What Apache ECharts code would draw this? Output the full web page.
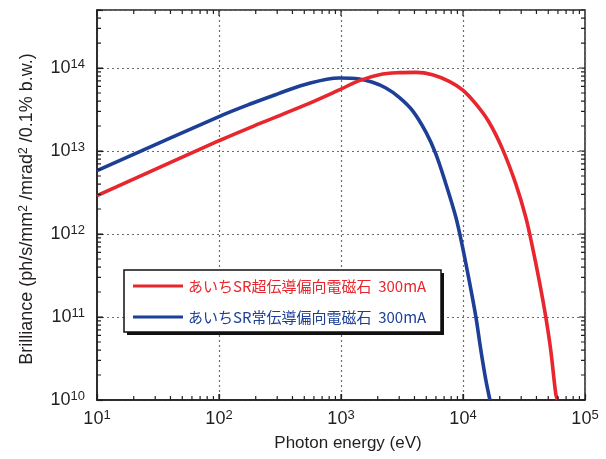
<!DOCTYPE html>
<html>
<head>
<meta charset="utf-8">
<script src="https://cdn.jsdelivr.net/npm/echarts@6/dist/echarts.min.js"></script>
<style>html,body{margin:0;padding:0;background:#fff;}#c{width:606px;height:459px;}</style>
</head>
<body>
<div id="c"></div>
<script>
// ---- data ----
const seriesNames = ['あいちSR超伝導偏向電磁石  300mA', 'あいちSR常伝導偏向電磁石  300mA'];
const redX = [10, 100, 217, 500, 968, 1413, 2061, 3000, 4111, 5623, 7709, 9908, 12740, 16370, 21040, 27040, 32660, 37070, 42070, 47640, 52360, 57540, 59430];
const redY = [2.9e12, 1.33e13, 2.15e13, 3.54e13, 5.45e13, 7.05e13, 8.32e13, 8.79e13, 8.87e13, 8.32e13, 6.92e13, 5.45e13, 3.69e13, 2.22e13, 1.06e13, 4.04e12, 1.6e12, 7.0e11, 2.78e11, 1.01e11, 4.0e10, 1.2e10, 1.0e10];
const blueX = [10, 100, 180, 300, 500, 968, 1413, 1816, 2333, 3000, 3855, 4966, 5984, 7228, 8730, 9908, 11220, 12740, 14000, 15380, 16630];
const blueY = [5.8e12, 2.6e13, 3.68e13, 4.85e13, 6.3e13, 7.59e13, 7.38e13, 6.73e13, 5.75e13, 4.44e13, 3.07e13, 1.69e13, 9.25e12, 4.04e12, 1.6e12, 7.0e11, 2.78e11, 1.01e11, 4.0e10, 1.75e10, 1.0e10];
const xMin = 10, xMax = 1e5;
const yMin = 1e10, yMax = 5e14;
const xTitle = 'Photon energy (eV)';
const yTitle = 'Brilliance (ph/s/mm{s|2} /mrad{s|2} /0.1% b.w.)';

const RED = '#e8262d', BLUE = '#1d3f96', INK = '#231f20';
const FONT = '"Liberation Sans", "Noto Sans CJK JP", sans-serif';

function pairs(xs, ys) { return xs.map((x, i) => [x, ys[i]]); }

// axis decoration: decade and sub-decade tick positions
function logTicks(lo, hi, max) {
  const out = [];
  for (let e = lo; e < hi; e++) {
    for (let m = 1; m <= 9; m++) {
      const v = m * Math.pow(10, e);
      if (v <= max * 1.0001) out.push([v, m === 1 ? 6 : 4]);
    }
  }
  return out;
}
const xTicks = logTicks(1, 5, xMax);
const yTicks = logTicks(10, 15, yMax);

function labelFmt(v) {
  const l = Math.log10(v);
  const e = Math.round(l);
  if (Math.abs(l - e) > 1e-6) return '';
  return '{b|10}{s|' + e + '}';
}
const labelRich = {
  b: { fontSize: 18, fontFamily: FONT, color: INK, lineHeight: 20 },
  s: { fontSize: 13, fontFamily: FONT, color: INK, lineHeight: 13, verticalAlign: 'top' }
};

const chart = echarts.init(document.getElementById('c'), null, { renderer: 'canvas' });
const option = {
  animation: false,
  grid: { left: 97, right: 21, top: 10, bottom: 59, show: true, borderColor: INK, borderWidth: 1.5, backgroundColor: 'transparent', outerBoundsMode: 'none' },
  xAxis: {
    type: 'log', logBase: 10, min: xMin, max: xMax,
    name: xTitle, nameLocation: 'middle', nameGap: 35,
    nameTextStyle: { fontSize: 17, fontFamily: FONT, color: INK, padding: [0, 0, 0, 14] },
    axisLine: { show: true, lineStyle: { color: INK, width: 1.5 } },
    axisTick: { show: true, inside: true, length: 6, lineStyle: { color: INK, width: 1.2 } },
    axisLabel: { formatter: labelFmt, rich: labelRich, margin: 9, color: INK },
    splitLine: { show: true, lineStyle: { color: '#6d6d6d', width: 1.2, type: [2, 3] } }
  },
  yAxis: {
    type: 'log', logBase: 10, min: yMin, max: yMax,
    name: yTitle, nameLocation: 'middle', nameGap: 61,
    nameTextStyle: { fontSize: 18, fontFamily: FONT, color: INK, padding: [0, 8, 0, 0],
      rich: { s: { fontSize: 12, fontFamily: FONT, color: INK, verticalAlign: 'top', lineHeight: 12 } } },
    axisLine: { show: true, lineStyle: { color: INK, width: 1.5 } },
    axisTick: { show: true, inside: true, length: 6, lineStyle: { color: INK, width: 1.2 } },
    axisLabel: { formatter: labelFmt, rich: labelRich, margin: 12, color: INK },
    splitLine: { show: true, lineStyle: { color: '#6d6d6d', width: 1.2, type: [2, 3] } }
  },
  legend: {
    orient: 'vertical', left: 133, top: 278, padding: 0, itemGap: 15,
    itemWidth: 50, itemHeight: 3, itemTextGap: 5, icon: 'rect',
    textStyle: { fontSize: 15, fontFamily: '"Noto Sans CJK JP"', lineHeight: 16 },
    data: [
      { name: seriesNames[0], textStyle: { color: RED } },
      { name: seriesNames[1], textStyle: { color: BLUE } }
    ],
    z: 10
  },
  graphic: [
    { type: 'rect', z: 8, silent: true, shape: { x: 127, y: 273, width: 317, height: 62 }, style: { fill: '#111' } },
    { type: 'rect', z: 9, silent: true, shape: { x: 124, y: 270, width: 317, height: 62 }, style: { fill: '#fff', stroke: '#111', lineWidth: 1.5 } }
  ],
  series: [
    {
      name: seriesNames[1], type: 'line', data: pairs(blueX, blueY), smooth: 0.35,
      showSymbol: false, color: BLUE, lineStyle: { width: 3.6, color: BLUE }, z: 3
    },
    {
      name: seriesNames[0], type: 'line', data: pairs(redX, redY), smooth: 0.35,
      showSymbol: false, color: RED, lineStyle: { width: 3.6, color: RED }, z: 4
    }
  ]
};
chart.setOption(option);

// tick marks on all four sides, as short line segments placed through the axes' own scales
try {
  const finder = { gridIndex: 0 };
  const toPx = function (v) { return chart.convertToPixel(finder, v); };
  const fromPx = function (p) { return chart.convertFromPixel(finder, p); };
  const tl = toPx([xMin, yMax]);
  const br = toPx([xMax, yMin]);
  const segData = [];
  xTicks.forEach(function (t) {
    const yb = fromPx([tl[0], br[1] - t[1]])[1];
    const yt = fromPx([tl[0], tl[1] + t[1]])[1];
    segData.push([t[0], yMin], [t[0], yb], [t[0], '-']);
    segData.push([t[0], yMax], [t[0], yt], [t[0], '-']);
  });
  yTicks.forEach(function (t) {
    const xl = fromPx([tl[0] + t[1], br[1]])[0];
    const xr = fromPx([br[0] - t[1], br[1]])[0];
    segData.push([xMin, t[0]], [xl, t[0]], ['-', t[0]]);
    segData.push([xMax, t[0]], [xr, t[0]], ['-', t[0]]);
  });
  chart.setOption({
    series: [{}, {}, {
      type: 'line', data: segData, silent: true, showSymbol: false, symbol: 'none',
      connectNulls: false, clip: false, z: 6,
      lineStyle: { color: INK, width: 1.2 }, emphasis: { disabled: true }, tooltip: { show: false }
    }]
  });
} catch (e) { /* leave chart without extra ticks */ }
</script>
</body>
</html>
